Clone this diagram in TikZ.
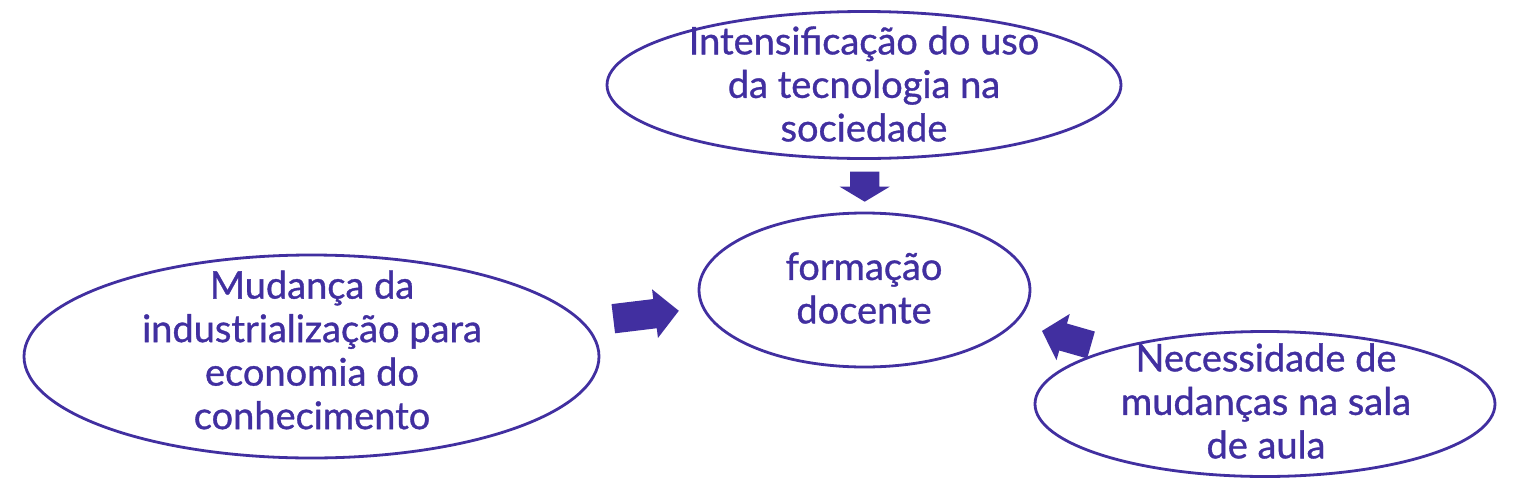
\documentclass[tikz,border=0pt]{standalone}
\usepackage{fontspec}
\setmainfont{Lato}[FakeBold=0.9]
\usetikzlibrary{shapes.geometric}
\definecolor{mainc}{RGB}{65,47,160}
% #1,#2 tail point, #3 rotation, #4 length, #5 shaft half width, #6 head half width, #7 head length
\newcommand\blkarrow[7]{%
  \fill[mainc,shift={(#1,#2)},rotate=#3]
    (0,-#5) -- ({#4-#7},-#5) -- ({#4-#7},-#6) -- (#4,0) -- ({#4-#7},#6) -- ({#4-#7},#5) -- (0,#5) -- cycle;}
\begin{document}
\begin{tikzpicture}[x=1pt,y=-1pt,
  ell/.style={ellipse, draw=mainc, line width=2.8pt, fill=white, inner sep=0pt},
  txt/.style={text=mainc, align=center, font=\fontsize{38}{43.5}\selectfont, inner sep=0pt}]
\useasboundingbox (0,0) rectangle (1519,488);
% block arrows
\blkarrow{864.7}{171.7}{-90}{30}{14.7}{25}{15}
\blkarrow{613.3}{318.7}{6.9}{66}{14.7}{24.5}{24}
\blkarrow{1091}{345}{164}{51}{14}{24}{22}
% ellipses
\node[ell, minimum width=514pt, minimum height=147pt] (top) at (864,85) {};
\node[ell, minimum width=331pt, minimum height=154pt] (mid) at (864.5,290) {};
\node[ell, minimum width=575pt, minimum height=203pt] (left) at (311.5,356.5) {};
\node[ell, minimum width=460pt, minimum height=145pt] (right) at (1265,404) {};
% texts
\node[txt] (toptxt) at (864,84) {Intensificação do uso\\da tecnologia na\\sociedade};
\node[txt] (midtxt) at (864,288) {formação\\docente};
\node[txt] (lefttxt) at (312,350) {Mudança da\\industrialização para\\economia do\\conhecimento};
\node[txt] (righttxt) at (1266,401) {Necessidade de\\mudanças na sala\\de aula};
\end{tikzpicture}
\end{document}
